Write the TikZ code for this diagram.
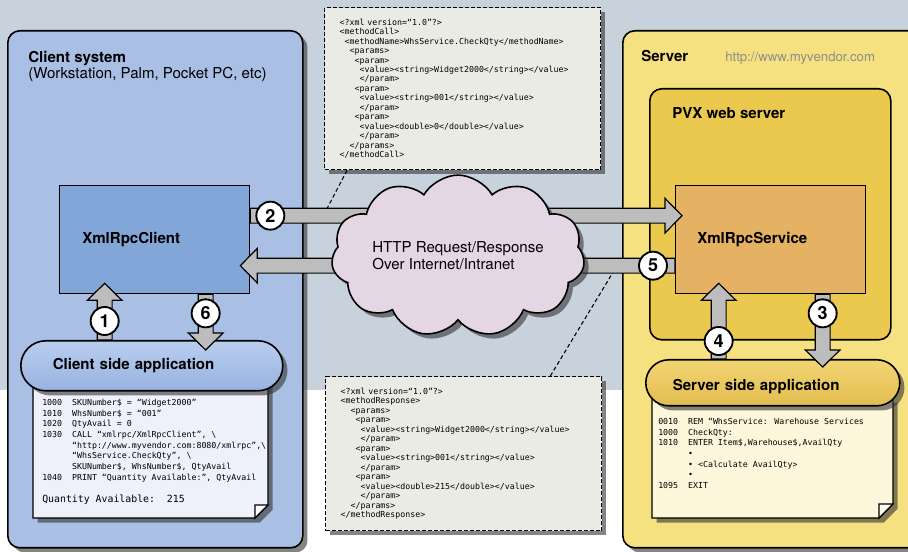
\documentclass[tikz,border=0pt]{standalone}
\usepackage{fontspec}
\setmainfont{TeX Gyre Heros}
\newfontfamily\codefont{DejaVu Sans Mono}
\usepackage{tikz}
\usetikzlibrary{positioning}
\usetikzlibrary{calc}
\usetikzlibrary{shapes.symbols}
\usetikzlibrary{shadows}

\definecolor{hintergrund}{HTML}{C7D2DC}
\definecolor{clientblau}{HTML}{A9BFE4}
\definecolor{boxblau}{HTML}{82A6D8}
\definecolor{notizblau}{HTML}{EEF0FA}
\definecolor{servergelb}{HTML}{F5E17F}
\definecolor{pvxgelb}{HTML}{EBC94F}
\definecolor{boxorange}{HTML}{E4B262}
\definecolor{notizgelb}{HTML}{FCF7DA}
\definecolor{wolke}{HTML}{E4D7E3}
\definecolor{xmlgrau}{HTML}{EBEBE6}
\definecolor{pfeilgrau}{HTML}{BDBDBD}
\definecolor{appblauoben}{HTML}{B9CDEE}
\definecolor{appblaumitte}{HTML}{C4D5F1}
\definecolor{appblauunten}{HTML}{98B3E0}
\definecolor{appgelboben}{HTML}{F2D574}
\definecolor{appgelbmitte}{HTML}{F6DE8A}
\definecolor{appgelbunten}{HTML}{E3BC4F}

\newcommand\ein[1]{\hspace*{\dimexpr#1\fontcharwd\font`0\relax}}% Einzug in Zeichen
\newcommand\titelfont{\fontsize{11.3}{12}\selectfont}
\newcommand\xmlfont{\codefont\fontsize{6.2}{7.1}\selectfont}
\newcommand\notizfont{\codefont\fontsize{6.2}{8}\selectfont}

% dicker grauer Pfeil von #1 nach #2 (Spitze)
\newcommand\dickpfeil[2]{%
  \path ($(#2)!12.75pt!(#1)$) coordinate (kopf);
  \filldraw[grosspfeil] ($(#1)!5.6pt!90:(#2)$) -- ($(kopf)!5.6pt!90:(#2)$)
    -- ($(kopf)!13pt!90:(#2)$) -- (#2) -- ($(kopf)!13pt!-90:(#2)$)
    -- ($(kopf)!5.6pt!-90:(#2)$) -- ($(#1)!5.6pt!-90:(#2)$) -- cycle;
}

\tikzset{
  groesse/.style 2 args={minimum width=#1*.75pt, minimum height=#2*.75pt},
  schatten/.style={drop shadow={shadow xshift=3.5pt, shadow yshift=-3.5pt, opacity=.6, fill=black!80}},
  bereich/.style={draw, line width=1.2pt, rounded corners=9pt, anchor=north west, inner sep=0pt},
  kasten/.style={draw, line width=1pt, anchor=north west, inner sep=0pt},
  xmlkasten/.style={draw, dash pattern=on 3pt off 1.5pt, line width=1pt, fill=xmlgrau, schatten,
    anchor=north west, inner xsep=11.25pt, inner ysep=0pt, text width=184.5pt, align=left, font=\xmlfont},
  app/.style={draw, line width=1.2pt, schatten, anchor=north west, align=left, font=\titelfont\bfseries},
  titel/.style={inner sep=0pt, font=\titelfont\bfseries},
  nummer/.style={circle, draw, line width=1.4pt, fill=white, minimum size=21pt, inner sep=0pt,
    font=\bfseries\fontsize{13.5}{13.5}\selectfont},
  grosspfeil/.style={fill=pfeilgrau, draw=black, line width=.9pt},
  zeiger/.style={dash pattern=on 3pt off 2pt, line width=.8pt},
  notiz/.style={draw, line width=1pt, schatten},
  code/.style={anchor=north west, inner sep=0pt, align=left, font=\notizfont}
}

\begin{document}
\begin{tikzpicture}[x=.75pt, y=-.75pt]
\useasboundingbox (0,0) rectangle (908,552);

%Hintergrund
\fill[hintergrund] (0,0) rectangle (908,390);
\fill[white] (0,390) rectangle (908,552);

%Bereiche
\node[bereich, schatten, fill=clientblau, groesse={295}{517}] (clientsys) at (7,30) {};
\node[bereich, schatten, fill=servergelb, groesse={320}{517}] (serversys) at (622,30) {};
\node[bereich, fill=pvxgelb, groesse={241}{251}] (pvx) at (649,88) {};

\node[titel, anchor=north west, align=left] (clienttitel) at (28,51)
  {Client system\\\mdseries(Workstation, Palm, Pocket PC, etc)};
\node[titel, anchor=base west] (servertitel) at (641,62) {Server};
\node[anchor=base west, inner sep=0pt, text=black!45, font=\fontsize{9.9}{12}\selectfont] (url) at (725,62)
  {http://www.myvendor.com};
\node[titel, anchor=base west] (pvxtitel) at (672,119) {PVX web server};

%Kaesten
\node[kasten, fill=boxblau, groesse={190}{108}] (client) at (59,185) {};
\node[kasten, fill=boxorange, groesse={190}{108}] (service) at (675,185) {};
\node[titel, anchor=base west] (clientname) at ($(client.west)+(23,4)$) {XmlRpcClient};
\node[titel, anchor=base west] (servicename) at ($(service.west)+(22,4)$) {XmlRpcService};

%XML-Nachrichten
\node[xmlkasten, minimum height=121.5pt] (anfrage) at (324,7) {%
<?xml version=“1.0”?>\\
<methodCall>\\
\ein{1}<methodName>WhsService.CheckQty</methodName>\\
\ein{2}<params>\\
\ein{3}<param>\\
\ein{4}<value><string>Widget2000</string></value>\\
\ein{4}</param>\\
\ein{3}<param>\\
\ein{4}<value><string>001</string></value>\\
\ein{4}</param>\\
\ein{3}<param>\\
\ein{4}<value><double>0</double></value>\\
\ein{4}</param>\\
\ein{2}</params>\\
</methodCall>};

\node[xmlkasten, minimum height=115.5pt] (antwort) at (325,376) {%
<?xml version=“1.0”?>\\
<methodResponse>\\
\ein{2}<params>\\
\ein{3}<param>\\
\ein{4}<value><string>Widget2000</string></value>\\
\ein{4}</param>\\
\ein{3}<param>\\
\ein{4}<value><string>001</string></value>\\
\ein{4}</param>\\
\ein{3}<param>\\
\ein{4}<value><double>215</double></value>\\
\ein{4}</param>\\
\ein{2}</params>\\
</methodResponse>};

%Notizzettel
\filldraw[notiz, fill=notizblau] (33,378) -- (268,378) -- (268,505) -- (255,518) -- (33,518) -- cycle;
\filldraw[fill=white, line width=1pt] (255,518) -- (255,505) -- (268,505) -- cycle;
\node[code] (clientcode) at (42,399) {%
1000~~SKUNumber\$ = “Widget2000”\\
1010~~WhsNumber\$ = “001”\\
1020~~QtyAvail = 0\\
1030~~CALL “xmlrpc/XmlRpcClient”, \textbackslash\\
\ein{6}“http://www.myvendor.com:8080/xmlrpc”,\textbackslash\\
\ein{6}“WhsService.CheckQty”, \textbackslash\\
\ein{6}SKUNumber\$, WhsNumber\$, QtyAvail\\
1040~~PRINT “Quantity Available:”, QtyAvail\\[8.5pt]
{\fontsize{7.4}{8}\selectfont Quantity Available:~~215}};

\filldraw[notiz, fill=notizgelb] (652,398) -- (893,398) -- (893,504) -- (879,518) -- (652,518) -- cycle;
\filldraw[fill=white!60!notizgelb, line width=1pt] (879,518) -- (879,504) -- (893,504) -- cycle;
\node[code] (servercode) at (658,418) {%
0010~~REM “WhsService: Warehouse Services\\
1000~~CheckQty:\\
1010~~ENTER Item\$,Warehouse\$,AvailQty\\
\ein{6}•\\
\ein{6}• <Calculate AvailQty>\\
\ein{6}•\\
1095~~EXIT};

%Anwendungen
\node[app, top color=appblauoben, middle color=appblaumitte, bottom color=appblauunten, text width=148.5pt,
  inner xsep=24pt, minimum height=37.5pt, rounded corners=18.75pt] (clientapp) at (20,340)
  {Client side application};
\node[app, top color=appgelboben, middle color=appgelbmitte, bottom color=appgelbunten, text width=150pt,
  inner xsep=20.25pt, minimum height=34.5pt, rounded corners=17.25pt, text height=14pt] (serverapp) at (645,359)
  {Server side application};

%Pfeilpunkte
\coordinate (p2a) at ($(client.east)+(0,-24)$);
\coordinate (p2b) at ($(service.west)+(7,-24)$);
\coordinate (p5a) at ($(service.west)+(0,26)$);
\coordinate (p5b) at ($(client.east)+(-10,26)$);
\coordinate (p1a) at ($(clientapp.north -| client.south)+(-50,0)$);
\coordinate (p1b) at ($(client.south)+(-50,-11)$);
\coordinate (p6a) at ($(client.south)+(51,0)$);
\coordinate (p6b) at ($(clientapp.north -| client.south)+(51,10)$);
\coordinate (p4a) at ($(serverapp.north -| service.south)+(-52,0)$);
\coordinate (p4b) at ($(service.south)+(-52,-11)$);
\coordinate (p3a) at ($(service.south)+(52,0)$);
\coordinate (p3b) at ($(serverapp.north -| service.south)+(52,8)$);

%Zeiger zu den Nachrichten
\coordinate (z2) at ($(p2a)+(73,0)$);
\coordinate (z5) at ($(p5a)+(-58,0)$);
\draw[zeiger] ($(anfrage.south west)+(23,0)$) -- (z2);
\draw[zeiger] ($(antwort.north east)+(-52,0)$) -- (z5);

%Pfeile
\dickpfeil{p2a}{p2b}
\dickpfeil{p5a}{p5b}
\dickpfeil{p1a}{p1b}
\dickpfeil{p6a}{p6b}
\dickpfeil{p4a}{p4b}
\dickpfeil{p3a}{p3b}

%Internet
\node[cloud, draw, line width=1.2pt, fill=wolke, schatten, cloud puffs=11, cloud puff arc=120,
  aspect=1.9, minimum width=189pt, minimum height=99pt, inner sep=0pt, align=left,
  font=\fontsize{11.3}{12.75}\selectfont] (internet) at (458,256)
  {HTTP Request/Response\\Over Internet/Intranet};

%Nummern
\node[nummer] (n1) at ($(p1a)+(0,-19)$) {1};
\node[nummer] (n2) at ($(p2a)+(20,0)$) {2};
\node[nummer] (n3) at ($(p3a)+(0,19)$) {3};
\node[nummer] (n4) at ($(p4a)+(0,-18)$) {4};
\node[nummer] (n5) at ($(p5a)+(-22,0)$) {5};
\node[nummer] (n6) at ($(p6a)+(0,19)$) {6};

\end{tikzpicture}
\end{document}
